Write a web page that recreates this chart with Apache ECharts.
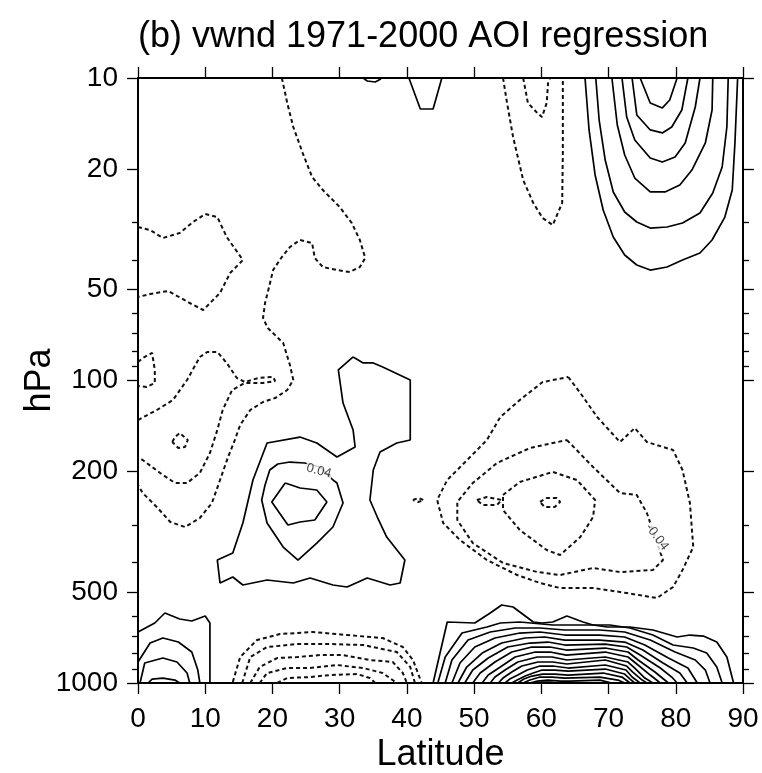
<!DOCTYPE html>
<html><head><meta charset="utf-8">
<script src="https://cdn.jsdelivr.net/npm/echarts@6/dist/echarts.min.js"></script>
<style>html,body{margin:0;padding:0;background:#fff}#c{width:762px;height:773px}</style>
</head><body><div id="c"></div>
<script>
// ---- axis ticks ----
const latTicks = [0, 10, 20, 30, 40, 50, 60, 70, 80, 90];
const pMajorTicks = [10, 20, 50, 100, 200, 500, 1000];
const pMinorTicks = [30, 40, 60, 70, 80, 90, 300, 400, 600, 700, 800, 900];

// ---- contours: each line is a list of [latitude, hPa] ----
// positive (solid) : polar stratosphere
const posPolarStrat = [
  [[74.7,10],[76.2,12.1],[78.0,12.56],[79.1,11.82],[80.2,10]],
  [[73.5,10],[74.2,13.25],[76.2,14.85],[78.0,15.19],[79.4,14.52],[80.9,12.76],[81.8,10]],
  [[72.0,10],[72.7,13.46],[73.9,16.03],[76.2,18.39],[78.0,18.96],[79.9,18.25],[81.4,16.4],[82.9,12.47],[83.6,10]],
  [[70.5,10],[71.3,14.3],[72.4,17.97],[73.9,21.41],[76.2,23.81],[78.4,23.81],[80.6,22.58],[82.4,20.15],[84.4,16.4],[85.4,12.76],[85.5,10]],
  [[68.1,10],[68.6,13.77],[69.5,18.67],[70.7,23.81],[72.4,27.73],[74.2,29.92],[76.2,31.33],[78.7,31.09],[81.0,30.15],[83.6,27.95],[85.5,24.0],[86.9,19.69],[87.6,14.52],[87.8,10]],
  [[66.5,10],[67.1,14.85],[68.0,20.92],[69.2,27.32],[70.7,33.55],[72.4,38.47],[74.2,41.52],[76.2,43.14],[78.7,42.16],[81.0,39.97],[83.6,37.9],[85.4,34.32],[87.3,28.82],[88.4,23.46],[88.8,16.4],[89.2,10]]
];
// positive (solid) : small features at the top
const posTopSmall = [
  [[40.3,10],[42.0,12.66],[43.9,12.66],[45.2,10]],
  [[33.5,10],[34.1,10.23],[35.3,10.31],[36.1,10.08],[36.0,10]]
];
// positive (solid) : subtropical troposphere
const posSubtropics = [
  [[32.0,83.6],[33.5,87.5],[35.0,87.5],[36.4,90.2],[40.5,99.6],[40.5,157.3],[38.5,160.9],[36.0,172.4],[35.0,197.6],[34.5,248.3],[35.6,282.7],[37.0,329.2],[39.7,392.2],[39.0,467.1],[37.5,474.3],[34.1,449.7],[31.1,481.6],[29.0,474.3],[25.6,449.7],[23.1,467.1],[19.2,456.6],[15.6,474.3],[14.1,446.3],[12.2,467.1],[11.8,392.2],[14.1,371.8],[15.6,295.9],[17.1,213.3],[19.2,160.9],[24.1,153.8],[26.6,160.9],[29.6,179.1],[32.3,165.9],[32.0,145.8],[30.5,118.7],[29.8,92.3],[32.0,83.6]],
  [[29.0,213.3],[29.6,218.2],[30.5,254.1],[29.0,305],[26.6,344.6],[23.8,392.2],[21.6,355.2],[19.2,295.9],[18.4,248.3],[18.9,221.5],[19.6,197.6],[20.8,188.8],[22.6,186.0],[24.8,187.4],[27.1,193.2],[29.0,213.3]],
  [[21.9,218.2],[24.1,226.7],[26.6,230.1],[28.1,252.1],[26.3,289.2],[24.1,293.6],[22.3,300.4],[19.9,252.1],[21.9,218.2]]
];
// positive (solid) : tropical surface
const posSurfaceTropics = [
  [[0,678.4],[2.5,633.4],[4.0,586.9],[6.2,614.4],[8.0,623.8],[10.0,600.6],[10.7,633.4],[10.7,1000]],
  [[0,852.4],[1.8,737.7],[3.7,710.1],[6.0,732.1],[8.0,790.0],[8.9,906.0],[9.2,1000]],
  [[0.3,1000],[1.0,858.9],[3.7,826.9],[5.8,852.4],[7.3,927.0],[7.7,1000]],
  [[1.5,1000],[2.1,970.4],[3.7,963],[5.5,977.8],[6.2,1000]]
];
// positive (solid) : high-latitude surface
const posSurfaceHighLat = [
  [[43.9,1000],[46.0,628.6],[50.1,633.4],[52.4,586.9],[54.1,552.3],[55.8,560.8],[58.8,628.6],[60.1,633.4],[61.7,628.6],[63.8,600.6],[66.2,628.6],[67.7,643.2],[69.8,653.0],[73.2,653.0],[76.6,668.1],[80.2,704.7],[82.1,694.1],[84.1,699.4],[86.1,732.1],[87.6,820.6],[88.6,1000]],
  [[44.6,1000],[45.7,820.6],[48.2,683.6],[51.9,653.0],[53.9,633.4],[56.8,628.6],[61.7,643.2],[66.8,643.2],[70.2,643.2],[73.2,658.0],[76.6,694.1],[79.6,749.0],[82.6,766.3],[84.6,796.1],[86.1,885.5],[86.9,1000]],
  [[45.7,1000],[46.7,839.5],[49.1,721.1],[52.4,678.4],[56.1,658.0],[59.8,658.0],[63.5,668.1],[68.7,668.1],[72.4,678.4],[76.2,721.1],[79.9,790.0],[82.9,839.5],[84.4,906.0],[85.1,1000]],
  [[46.7,1000],[47.9,858.9],[50.1,760.5],[53.1,710.1],[56.8,683.6],[59.8,678.4],[63.5,694.1],[68.7,694.1],[72.4,704.7],[75.4,749.0],[78.9,826.9],[81.8,892.3],[83.2,1000]],
  [[47.6,1000],[48.9,885.5],[51.2,796.1],[54.1,737.7],[57.6,710.1],[60.5,704.7],[63.5,721.1],[68.7,721.1],[72.4,732.1],[75.1,778.1],[78.1,858.9],[80.6,927.0],[81.7,1000]],
  [[48.6,1000],[49.8,906.0],[52.1,826.9],[55.0,760.5],[58.3,737.7],[61.0,732.1],[63.5,749.0],[69.5,743.4],[72.7,760.5],[74.7,808.3],[77.7,892.3],[79.4,955.7],[80.2,1000]],
  [[49.8,1000],[50.9,927.0],[53.1,852.4],[55.6,790.0],[58.6,760.5],[61.3,760.5],[63.7,778.1],[69.5,766.3],[72.9,790.0],[74.4,839.5],[76.9,919.9],[78.9,1000]],
  [[51.2,1000],[52.1,941.2],[53.9,885.5],[56.1,820.6],[59.1,790.0],[61.3,790.0],[63.7,808.3],[69.5,790.0],[72.9,820.6],[74.2,865.5],[76.2,941.2],[77.7,1000]],
  [[52.4,1000],[53.1,955.7],[54.6,906.0],[56.5,852.4],[59.4,820.6],[61.6,820.6],[63.8,839.5],[69.5,820.6],[72.9,852.4],[73.9,892.3],[75.4,963.0],[76.6,1000]],
  [[53.6,1000],[54.3,963.0],[55.6,919.9],[57.1,878.8],[59.5,852.4],[61.7,852.4],[63.8,865.5],[69.5,839.5],[72.7,878.8],[73.6,919.9],[75.0,977.8],[75.7,1000]],
  [[54.6,1000],[55.3,970.4],[56.5,941.2],[57.9,906.0],[59.8,878.8],[61.7,878.8],[64.0,892.3],[69.5,872.1],[72.6,906.0],[73.5,955.7],[74.7,1000]],
  [[55.6,1000],[56.4,977.8],[57.6,948.4],[58.8,927.0],[60.1,906.0],[62.0,906.0],[64.0,912.9],[69.5,899.1],[72.4,934.1],[73.2,970.4],[73.9,1000]],
  [[56.5,1000],[57.4,970.4],[58.6,948.4],[60.2,934.1],[62.0,934.1],[64.0,941.2],[69.2,927.0],[72.0,955.7],[73.2,1000]],
  [[57.3,1000],[58.3,977.8],[59.8,955.7],[61.6,955.7],[63.5,963.0],[68.7,955.7],[71.4,977.8],[72.4,1000]],
  [[58.3,1000],[59.4,985.3],[61.0,977.8],[62.8,985.3],[64.3,985.3],[68.7,977.8],[70.5,1000]],
  [[59.1,1000],[60.0,992.4],[61.3,992.4],[62.5,1000]]
];
// negative (dashed) : stratosphere near 60N
const negStrat60N = [
  [[54.3,10],[54.9,12.09],[55.8,15.67],[57.3,21.74],[58.8,25.9],[60.2,29.04],[61.7,30.62],[63.1,25.9],[63.2,17.7],[63.2,12.09],[63.2,10]],
  [[57.3,10],[58.0,12.09],[59.4,13.05],[60.1,13.46],[60.8,12.09],[61.0,10.39],[61.3,10]]
];
// negative (dashed) : tropics and subtropics
const negTropics = [
  [[21.4,10],[22.2,12.09],[23.1,14.52],[24.5,17.7],[25.9,21.25],[27.5,23.46],[30.0,26.7],[31.8,30.15],[33.0,34.32],[33.8,39.36],[33.0,42.16],[31.5,43.8],[29.6,43.14],[27.5,42.16],[26.3,39.36],[25.9,35.12],[24.1,34.32],[22.6,36.21],[21.4,39.06],[20.1,43.14],[19.5,49.09],[18.9,55.44],[18.6,62.14],[19.3,67.07],[21.6,75.17],[22.6,88.9],[23.1,99.6],[22.2,107.5],[20.4,114.3],[18.6,117.8],[16.7,125.2],[15.2,140.3],[14.4,157.3],[13.4,179.1],[12.2,213.3],[11.0,254.1],[9.2,284.8],[7.0,305],[4.8,293.6],[2.8,262],[0.7,235.5],[0,221.5]],
  [[0,135.1],[2.8,125.2],[5.2,116],[7.3,99.6],[9.2,83.6],[10.3,80.5],[11.8,80.5],[13.2,87.5],[14.7,98.1],[15.9,101.2],[17.9,98.1],[20.1,97.36],[20.4,100.4],[18.6,101.9],[15.9,101.9],[14.0,107.5],[12.6,125.2],[11.8,145.8],[10.7,173.7],[9.2,202.2],[7.3,218.2],[5.5,218.2],[3.3,202.2],[0.7,183.2],[0,179.1]],
  [[0,86.86],[0.7,84.25],[2.1,81.1],[2.5,92.3],[2.5,101.9],[1.3,105.1],[0,104.3]],
  [[5.1,159.7],[5.5,153.8],[6.2,149.2],[7.4,157.3],[7.0,165.9],[6.0,167.2],[5.1,159.7]],
  [[0,31.09],[1.8,31.81],[3.7,33.8],[6.2,32.54],[8.2,29.92],[10.0,28.17],[11.8,28.82],[13.2,33.55],[15.6,39.97],[13.7,44.14],[12.2,51.37],[9.7,58.47],[7.7,55.44],[4.5,50.6],[1.8,51.76],[0,52.97]]
];
// negative (dashed) : mid/high-latitude upper troposphere
const negUpperTrop = [
  [[64.0,97.36],[65.8,110.0],[68.3,132.0],[71.7,159.7],[73.9,143.6],[75.7,159.7],[79.6,169.8],[81.0,197.6],[82.1,254.1],[82.6,355.2],[81.0,423.2],[79.6,481.6],[77.2,523.6],[72.7,504.1],[67.7,485.3],[62.8,485.3],[59.8,467.1],[56.4,439.5],[51.9,392.2],[47.9,336.8],[45.4,295.9],[44.5,248.3],[46.0,213.3],[49.4,179.1],[51.9,157.3],[53.9,132.0],[56.8,116.0],[60.2,101.2],[64.0,97.36]],
  [[63.8,157.3],[67.7,193.2],[71.7,235.5],[74.2,239.1],[75.7,274.2],[78.1,392.2],[76.6,423.2],[71.7,429.7],[67.7,416.8],[62.8,439.5],[59.4,429.7],[54.3,401.2],[49.8,344.6],[47.5,289.2],[47.5,252.1],[49.8,218.2],[53.4,187.4],[58.3,167.2],[63.8,157.3]],
  [[54.3,239.1],[56.8,216.5],[61.7,200.6],[65.3,213.3],[68.0,248.3],[67.7,282.7],[65.8,329.2],[62.8,377.5],[60.8,363.4],[56.8,312.1],[54.3,268.0],[54.3,239.1]],
  [[50.4,248.3],[51.9,242.8],[54.1,248.3],[53.4,258.0],[51.3,258.0],[50.4,248.3]],
  [[59.8,252.1],[60.8,244.6],[62.3,244.6],[62.8,252.1],[62.0,262.0],[60.5,262.0],[59.8,252.1]],
  [[40.9,248.3],[41.7,244.6],[42.5,248.3],[41.7,252.1],[40.9,248.3]]
];
// negative (dashed) : tropical surface
const negSurface = [
  [[14.1,992],[15.2,820.6],[17.7,721.1],[21.1,688.8],[26.0,678.4],[31.1,694.1],[36.4,710.1],[39.4,760.5],[40.9,839.5],[42.2,1000]],
  [[15.5,1000],[16.7,820.6],[19.2,760.5],[23.7,743.4],[28.6,743.4],[33.5,749.0],[38.5,790.0],[40.5,885.5],[41.2,1000]],
  [[16.7,1000],[18.1,885.5],[20.7,826.9],[23.7,820.6],[27.1,808.3],[30.5,808.3],[34.5,839.5],[37.9,852.4],[39.4,927.0],[40.0,1000]],
  [[18.1,1000],[19.2,927],[22.2,892.3],[25.6,892.3],[29.6,872.1],[33.5,892.3],[36.4,927],[38.5,1000]],
  [[20.7,1000],[22.2,963],[25.6,955.7],[28.6,941.2],[32.6,934.1],[34.5,963],[35.3,1000]]
];
// contour labels: [latitude, hPa, text]
const contourLabels = [[26.9, 199, '0.04'], [77.2, 329, '-0.04']];

// ---- chart ----
const FONT = "'Liberation Sans', Arial, Helvetica, sans-serif";
const positive = [].concat(posPolarStrat, posTopSmall, posSubtropics, posSurfaceTropics, posSurfaceHighLat);
const negative = [].concat(negStrat60N, negTropics, negUpperTrop, negSurface);
const labelAngle = { '0.04': -15, '-0.04': -53 };

function contour(pts, dashed) {
  return {
    type: 'line', xAxisIndex: 0, yAxisIndex: 0, data: pts,
    showSymbol: false, symbol: 'none', smooth: false, silent: true, animation: false,
    lineStyle: dashed ? { color: '#111', width: 2, type: [4, 3] } : { color: '#000', width: 1.7 }
  };
}
const series = [];
positive.forEach(p => series.push(contour(p, false)));
negative.forEach(p => series.push(contour(p, true)));
series.push({
  type: 'scatter', xAxisIndex: 0, yAxisIndex: 0, symbolSize: 0, silent: true, animation: false, z: 5,
  data: contourLabels.map(d => ({
    value: [d[0], d[1]],
    label: { show: true, position: 'inside', formatter: d[2], rotate: labelAngle[d[2]],
      fontSize: 13, fontFamily: FONT, color: '#111', backgroundColor: '#fff', padding: [0, 1] }
  }))
});

const lg = v => Math.log10(v);
const axLine = { show: true, onZero: false, lineStyle: { color: '#000', width: 2 } };
function pAxis(pos, ticks, len, withLabels) {
  const a = {
    type: 'value', min: 1, max: 3, inverse: true, position: pos,
    axisLine: axLine, splitLine: { show: false },
    axisTick: { show: true, inside: false, length: len, customValues: ticks.map(lg), lineStyle: { color: '#000', width: 1.3 } },
    axisLabel: { show: false }
  };
  if (withLabels) {
    a.axisLabel = { show: true, customValues: ticks.map(lg), margin: 20, fontSize: 28, color: '#000', fontFamily: FONT,
      formatter: v => String(Math.round(Math.pow(10, v))) };
    a.name = 'hPa'; a.nameLocation = 'middle'; a.nameRotate = 90; a.nameGap = 80; a.nameMoveOverlap = false;
    a.nameTextStyle = { fontSize: 36, color: '#000', fontFamily: FONT };
  }
  return a;
}
function latAxis(pos, withLabels) {
  const a = {
    type: 'value', min: latTicks[0], max: latTicks[latTicks.length - 1], interval: 10, position: pos,
    axisLine: axLine, splitLine: { show: false },
    axisTick: { show: true, inside: false, length: 11, lineStyle: { color: '#000', width: 1.3 } },
    axisLabel: { show: false }
  };
  if (withLabels) {
    a.axisLabel = { show: true, margin: 22, fontSize: 28, color: '#000', fontFamily: FONT };
    a.name = 'Latitude'; a.nameLocation = 'middle'; a.nameGap = 54; a.nameMoveOverlap = false;
    a.nameTextStyle = { fontSize: 36, color: '#000', fontFamily: FONT };
  }
  return a;
}

const chart = echarts.init(document.getElementById('c'), null, { renderer: 'canvas' });
chart.setOption({
  backgroundColor: '#fff',
  animation: false,
  title: { text: '(b) vwnd 1971-2000 AOI regression', left: 133, top: 14,
    textStyle: { fontSize: 36, fontWeight: 'normal', color: '#000', fontFamily: FONT } },
  grid: { left: 138, right: 19, top: 78, bottom: 90, containLabel: false, outerBoundsMode: 'none' },
  xAxis: [latAxis('bottom', true), latAxis('top', false)],
  yAxis: [
    { type: 'log', logBase: 10, min: 10, max: 1000, inverse: true, show: false },
    pAxis('left', pMajorTicks, 11, true),
    pAxis('left', pMinorTicks, 6, false),
    pAxis('right', pMajorTicks, 11, false),
    pAxis('right', pMinorTicks, 6, false)
  ],
  series: series
});
</script>
</body></html>
